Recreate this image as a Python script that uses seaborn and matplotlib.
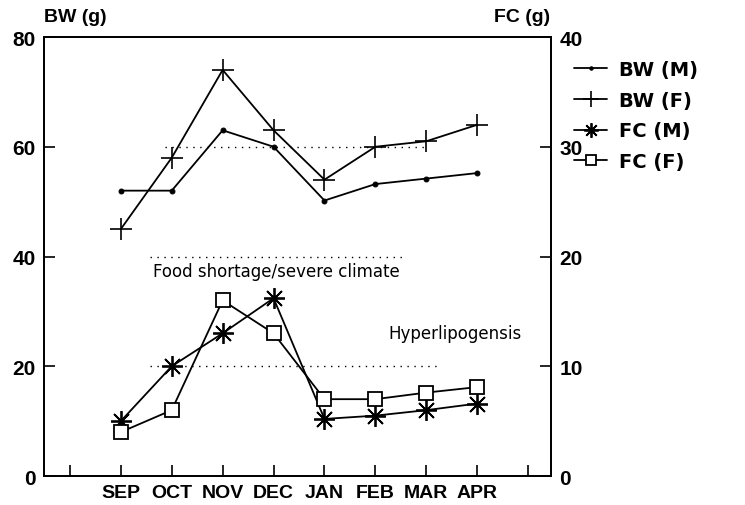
import numpy as np
import pandas as pd
import matplotlib
matplotlib.use("Agg")
import matplotlib.pyplot as plt
import seaborn as sns

months = ["SEP", "OCT", "NOV", "DEC", "JAN", "FEB", "MAR", "APR"]
bw_m = [52, 52, 63, 60, 50.2, 53.2, 54.2, 55.2]
bw_f = [45, 58, 74, 63, 54, 60, 61, 64]
fc_m = [5, 10, 13, 16.2, 5.2, 5.5, 6.0, 6.6]
fc_f = [4, 6, 16, 13, 7, 7, 7.6, 8.1]

# dotted guide lines: (left-axis level, x start, x end)
guide_levels = [60, 40, 20]
guide_x0 = [1.87, 1.57, 1.57]
guide_x1 = [6.97, 6.58, 7.27]

sns.set_style("ticks")
plt.rcParams["font.family"] = ["Liberation Sans", "DejaVu Sans"]
plt.rcParams.update({"text.color": "black", "xtick.color": "black",
                     "ytick.color": "black", "axes.edgecolor": "black",
                     "axes.labelcolor": "black"})

pos = np.arange(1, len(months) + 1)
df = pd.DataFrame({"pos": pos, "bw_m": bw_m, "bw_f": bw_f, "fc_m": fc_m, "fc_f": fc_f})

fig = plt.figure(figsize=(7.45, 5.06), dpi=100)
ax = fig.add_axes([0.059, 0.0573, 0.6806, 0.8676])
ax2 = ax.twinx()

for lvl, x0, x1 in zip(guide_levels, guide_x0, guide_x1):
    ax.plot([x0, x1], [lvl, lvl], color="black", lw=1.0, ls=(0, (1, 4)))

common = dict(color="black", lw=1.3, markeredgecolor="black", legend=False)
sns.lineplot(data=df, x="pos", y="bw_m", ax=ax, marker="o", markersize=3.5,
             label="BW (M)", **common)
sns.lineplot(data=df, x="pos", y="bw_f", ax=ax, marker="+", markersize=16,
             markeredgewidth=1.2, label="BW (F)", **common)
sns.lineplot(data=df, x="pos", y="fc_m", ax=ax2, marker=(8, 2, 0), markersize=15,
             markeredgewidth=1.3, label="FC (M)", **common)
sns.lineplot(data=df, x="pos", y="fc_f", ax=ax2, marker="s", markersize=10,
             markerfacecolor="white", markeredgewidth=1.3, label="FC (F)", **common)

ax.set_xlim(-0.51, 9.45)
ax.set_ylim(0, 80)
ax2.set_ylim(0, 40)
ax.set_xticks(range(0, 10))
ax.set_xticklabels([""] + months + [""], fontsize=14, fontweight="bold")
ax.set_yticks([0, 20, 40, 60, 80])
ax.set_yticklabels(["0", "20", "40", "60", "80"], fontsize=15, fontweight="bold")
ax2.set_yticks([0, 10, 20, 30, 40])
ax2.set_yticklabels(["0", "10", "20", "30", "40"], fontsize=15, fontweight="bold")
ax.set_xlabel("")
ax.set_ylabel("")
ax2.set_ylabel("")
ax.tick_params(direction="in", length=8, width=1.2, pad=6, colors="black")
ax2.tick_params(direction="in", length=8, width=1.2, pad=6, colors="black")
for a in (ax, ax2):
    for s in a.spines.values():
        s.set_linewidth(1.3)
        s.set_color("black")

fig.text(0.059, 0.965, "BW (g)", fontsize=14, fontweight="bold", ha="left", va="center")
fig.text(0.739, 0.965, "FC (g)", fontsize=14, fontweight="bold", ha="right", va="center")

ax.text(4.05, 37.4, "Food shortage/severe climate", fontsize=12, ha="center", va="center",
        family="DejaVu Sans")
ax.text(6.25, 26.1, "Hyperlipogensis", fontsize=12, ha="left", va="center",
        family="DejaVu Sans")

h1, l1 = ax.get_legend_handles_labels()
h2, l2 = ax2.get_legend_handles_labels()
leg = ax.legend(h1 + h2, l1 + l2, loc="upper left", bbox_to_anchor=(1.03, 0.965),
                borderaxespad=0, frameon=False, handlelength=1.7,
                handletextpad=0.6, labelspacing=0.6, markerscale=0.7,
                prop={"family": "DejaVu Sans", "weight": "bold", "size": 14})

fig.savefig("out.png", dpi=100)
